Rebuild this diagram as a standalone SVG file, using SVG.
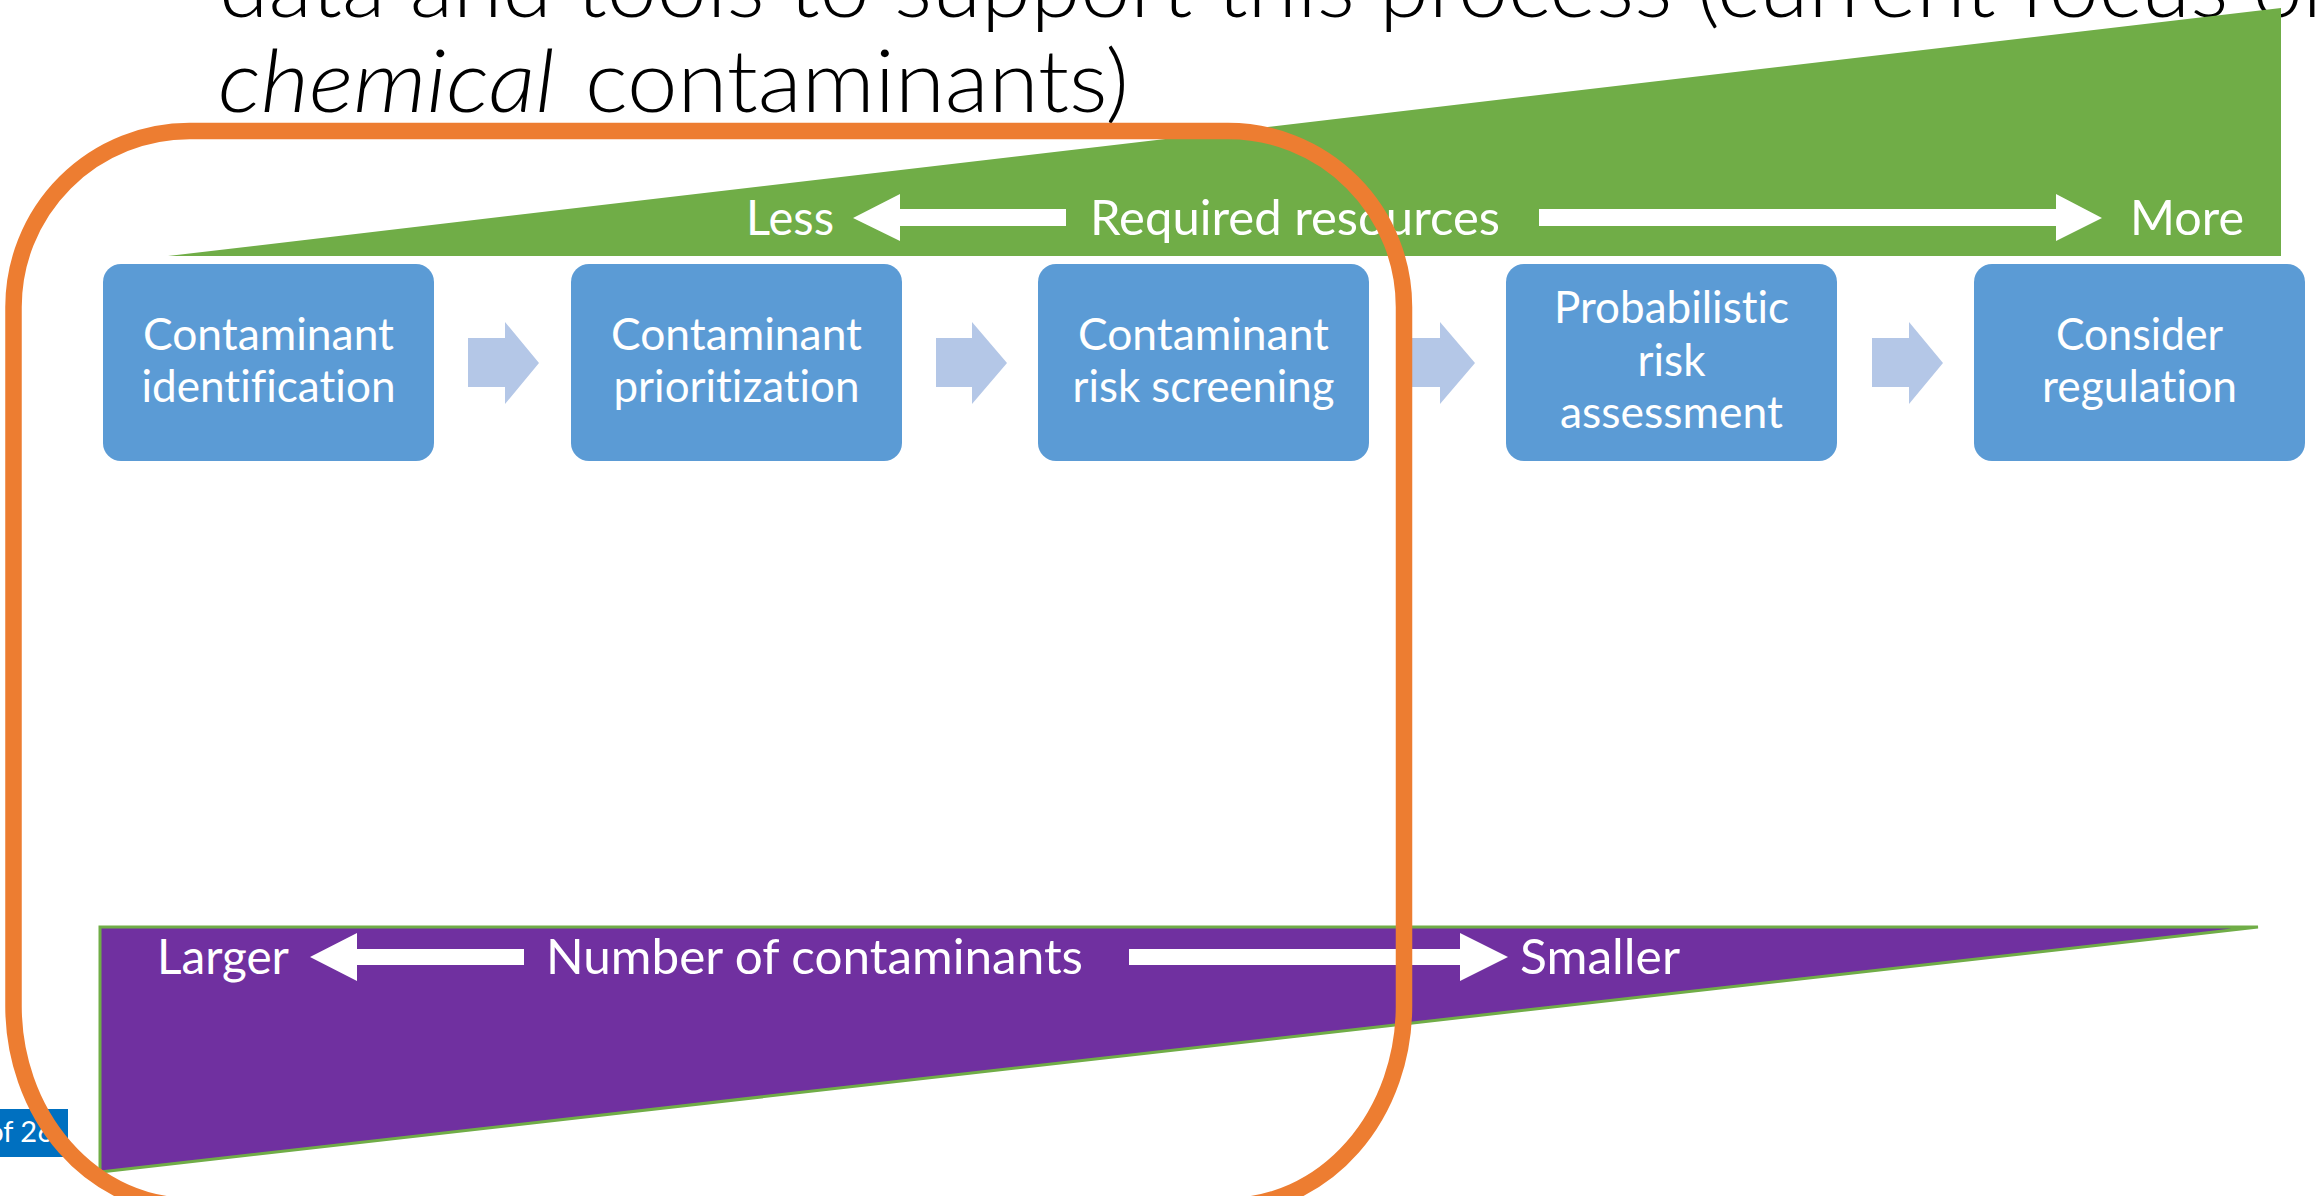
<svg xmlns="http://www.w3.org/2000/svg" width="2318" height="1196" viewBox="0 0 2318 1196">
  <defs>
    <style>
      text { font-family: Lato, "Open Sans", "Liberation Sans", sans-serif; font-variant-ligatures: none; }
      .title { font-size: 86px; font-weight: 300; fill: #000000; }
      .lbl { font-size: 48px; fill: #ffffff; }
      .box { fill: #5B9BD5; }
      .boxtxt { font-size: 44px; fill: #ffffff; }
      .chev { fill: #B4C7E7; }
      .wa { fill: #ffffff; }
      .focus { fill: none; stroke: #ED7D31; stroke-width: 16.5; }
    </style>
  </defs>

  <rect x="0" y="0" width="2318" height="1196" fill="#ffffff"/>

  <!-- slide title (runs past the top and right edges) -->
  <g id="title">
    <text class="title" x="219" y="17" textLength="2133" lengthAdjust="spacingAndGlyphs">data and tools to support this process (current focus on</text>
    <text class="title" x="218" y="112" font-style="italic" textLength="337" lengthAdjust="spacingAndGlyphs">chemical</text>
    <text class="title" x="585" y="112" textLength="544" lengthAdjust="spacingAndGlyphs">contaminants)</text>
  </g>

  <!-- resources wedge -->
  <g id="resources-scale">
    <polygon points="168,256 2281,256 2281,8" fill="#70AD47"/>
    <text class="lbl" x="746" y="235" textLength="88" lengthAdjust="spacingAndGlyphs">Less</text>
    <polygon class="wa" points="853,218 900,194 900,209 1066,209 1066,226 900,226 900,241"/>
    <text class="lbl" x="1090" y="235" textLength="410" lengthAdjust="spacingAndGlyphs">Required resources</text>
    <polygon class="wa" points="1539,209 2056,209 2056,194 2102,218 2056,241 2056,226 1539,226"/>
    <text class="lbl" x="2130" y="235" textLength="114" lengthAdjust="spacingAndGlyphs">More</text>
  </g>

  <!-- process steps -->
  <g id="node-identification">
    <rect class="box" x="103" y="264" width="331" height="197" rx="18"/>
    <text class="boxtxt" x="143" y="350" textLength="251" lengthAdjust="spacingAndGlyphs">Contaminant</text>
    <text class="boxtxt" x="141.5" y="402" textLength="254" lengthAdjust="spacingAndGlyphs">identification</text>
  </g>
  <g id="node-prioritization">
    <rect class="box" x="571" y="264" width="331" height="197" rx="18"/>
    <text class="boxtxt" x="611" y="350" textLength="251" lengthAdjust="spacingAndGlyphs">Contaminant</text>
    <text class="boxtxt" x="613.5" y="402" textLength="246" lengthAdjust="spacingAndGlyphs">prioritization</text>
  </g>
  <g id="node-screening">
    <rect class="box" x="1038" y="264" width="331" height="197" rx="18"/>
    <text class="boxtxt" x="1078" y="350" textLength="251" lengthAdjust="spacingAndGlyphs">Contaminant</text>
    <text class="boxtxt" x="1072.5" y="402" textLength="262" lengthAdjust="spacingAndGlyphs">risk screening</text>
  </g>
  <g id="node-assessment">
    <rect class="box" x="1506" y="264" width="331" height="197" rx="18"/>
    <text class="boxtxt" x="1554" y="323" textLength="235" lengthAdjust="spacingAndGlyphs">Probabilistic</text>
    <text class="boxtxt" x="1637.5" y="376" textLength="68" lengthAdjust="spacingAndGlyphs">risk</text>
    <text class="boxtxt" x="1560" y="428" textLength="223" lengthAdjust="spacingAndGlyphs">assessment</text>
  </g>
  <g id="node-regulation">
    <rect class="box" x="1974" y="264" width="331" height="197" rx="18"/>
    <text class="boxtxt" x="2056" y="350" textLength="167" lengthAdjust="spacingAndGlyphs">Consider</text>
    <text class="boxtxt" x="2042" y="402" textLength="195" lengthAdjust="spacingAndGlyphs">regulation</text>
  </g>

  <!-- step connectors -->
  <g id="connectors">
    <polygon class="chev" points="468,338 505,338 505,322 539,363 505,404 505,387 468,387"/>
    <polygon class="chev" points="936,338 972,338 972,322 1007,363 972,404 972,387 936,387"/>
    <polygon class="chev" points="1404,338 1440,338 1440,322 1475,363 1440,404 1440,387 1404,387"/>
    <polygon class="chev" points="1872,338 1909,338 1909,322 1943,363 1909,404 1909,387 1872,387"/>
  </g>

  <!-- contaminant-count wedge -->
  <g id="count-scale">
    <polygon points="100,927 2258,927 100,1172" fill="#7030A0" stroke="#70AD47" stroke-width="3" stroke-linejoin="miter"/>
    <text class="lbl" x="157" y="974" textLength="132" lengthAdjust="spacingAndGlyphs">Larger</text>
    <polygon class="wa" points="310,957 357,933 357,949 524,949 524,965 357,965 357,981"/>
    <text class="lbl" x="546" y="974" textLength="537" lengthAdjust="spacingAndGlyphs">Number of contaminants</text>
    <polygon class="wa" points="1129,949 1460,949 1460,933 1508,957 1460,981 1460,965 1129,965"/>
    <text class="lbl" x="1520" y="974" textLength="160" lengthAdjust="spacingAndGlyphs">Smaller</text>
  </g>

  <!-- page counter -->
  <g id="page-number">
    <rect x="0" y="1109" width="68" height="48" fill="#0070C0"/>
    <text x="54" y="1142" font-size="29" fill="#ffffff" text-anchor="end">of 26</text>
  </g>

  <!-- highlight frame around the first three steps (taller bottom corners) -->
  <g id="focus-frame">
    <path class="focus" d="M 189.5 131 H 1228 A 176 176 0 0 1 1404 307 V 1006 A 176 200 0 0 1 1228 1206 H 189.5 A 176 200 0 0 1 13.5 1006 V 307 A 176 176 0 0 1 189.5 131 Z"/>
  </g>
</svg>
